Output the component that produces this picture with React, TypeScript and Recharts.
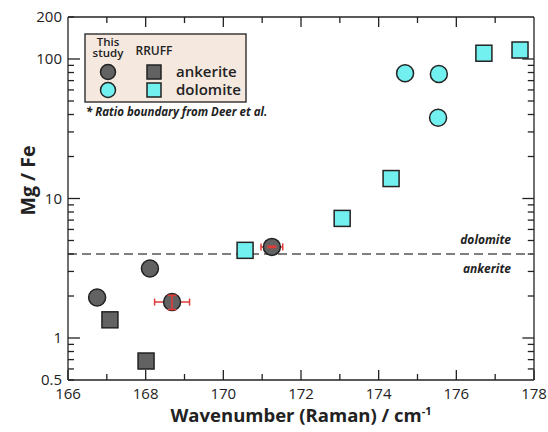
import React from 'react';
import { ScatterChart, Scatter, XAxis, YAxis, ReferenceLine, ErrorBar, Legend } from 'recharts';

// ---- data ----
const xTicks = [166, 167, 168, 169, 170, 171, 172, 173, 174, 175, 176, 177, 178];
const xLabelTicks = [166, 168, 170, 172, 174, 176, 178];
const yTicks = [0.5, 0.6, 0.7, 0.8, 0.9, 1, 2, 3, 4, 5, 6, 7, 8, 9, 10, 20, 30, 40, 50, 60, 70, 80, 90, 100, 200];
const yLabelTicks = [0.5, 1, 10, 100, 200];
const yMajorTicks = [1, 10, 100];
const xDomain = [166, 178];
const yDomain = [0.5, 200];

// This study – ankerite (circles)
const ankStudyX = [166.75, 168.11, 168.68, 171.25];
const ankStudyY = [1.95, 3.15, 1.81, 4.5];
const ankStudyErrX = [0, 0, 0.45, 0.28];
const ankStudyErrY = [0, 0, 0.21, 0.05];
// RRUFF – ankerite (squares)
const ankRruffX = [167.08, 168.01];
const ankRruffY = [1.35, 0.684];
// This study – dolomite (circles)
const dolStudyX = [174.68, 175.55, 175.53];
const dolStudyY = [79, 78, 37.9];
// RRUFF – dolomite (squares)
const dolRruffX = [170.56, 173.06, 174.32, 176.71, 177.64];
const dolRruffY = [4.25, 7.2, 13.9, 110, 116];

const boundary = 4; // Deer et al. ratio boundary

const zip = (xs: number[], ys: number[]) => xs.map((x, i) => ({ x, y: ys[i] }));
const ankStudy = ankStudyX.map((x, i) => ({ x, y: ankStudyY[i], ex: ankStudyErrX[i], ey: ankStudyErrY[i] }));
const ankStudyXErr = ankStudy.filter((d) => d.ex > 0);
const ankStudyYErr = ankStudy.filter((d) => d.ey > 0);
const ankRruff = zip(ankRruffX, ankRruffY);
const dolStudy = zip(dolStudyX, dolStudyY);
const dolRruff = zip(dolRruffX, dolRruffY);

// ---- styles ----
const FONT = '"Open Sans", "DejaVu Sans", sans-serif';
const INK = '#222';
const ANK = '#626262';
const DOL = '#72f0f0';
const RED = '#e23a3a';
// inward tick lengths for the right/top frame, in axis units
const X_TICK_MAJOR = 0.3;
const X_TICK_MINOR = 0.16;
const Y_TICK_MAJOR = 1.18;
const Y_TICK_MINOR = 1.105;

const circleShape = (fill: string) => (p: any) => (
  <circle cx={p.cx} cy={p.cy} r={8.5} fill={fill} stroke={INK} strokeWidth={1.5} />
);
const squareShape = (fill: string) => (p: any) => (
  <rect x={p.cx - 8} y={p.cy - 8} width={16} height={16} fill={fill} stroke={INK} strokeWidth={1.5} />
);
const noShape = () => <g />;

const BottomTick = (p: any) => {
  const v = p.payload.value;
  const axisY = p.y - 8;
  const major = xLabelTicks.includes(v);
  return (
    <g>
      <path d={`M${p.x},${axisY}L${p.x},${axisY - (major ? 10 : 6)}`} stroke={INK} strokeWidth={1.3} fill="none" />
      {major && (
        <text x={p.x} y={p.y} dy="0.71em" textAnchor="middle" fontFamily={FONT} fontSize={15} fontWeight={500} fill={INK}>
          {v}
        </text>
      )}
    </g>
  );
};
const LeftTick = (p: any) => {
  const v = p.payload.value;
  const axisX = p.x + 6;
  const major = yMajorTicks.includes(v);
  return (
    <g>
      <path d={`M${axisX},${p.y}L${axisX + (major ? 12 : 6)},${p.y}`} stroke={INK} strokeWidth={1.3} fill="none" />
      {yLabelTicks.includes(v) && (
        <text x={p.x} y={p.y} dy="0.36em" textAnchor="end" fontFamily={FONT} fontSize={15} fontWeight={500} fill={INK}>
          {v}
        </text>
      )}
    </g>
  );
};

const XTitle = (p: any) => {
  const vb = p.viewBox;
  return (
    <text x={vb.x + vb.width / 2} y={vb.y + 42} textAnchor="middle" fontFamily={FONT} fontSize={18.5} fontWeight={700} fill={INK}>
      Wavenumber (Raman) / cm
      <tspan dy={-7} fontSize={11}>-1</tspan>
    </text>
  );
};
const YTitle = (p: any) => {
  const vb = p.viewBox;
  const cx = 35;
  const cy = vb.y + vb.height / 2 - 18;
  return (
    <text x={cx} y={cy} transform={`rotate(-90, ${cx}, ${cy})`} textAnchor="middle" fontFamily={FONT} fontSize={19.5} fontWeight={700} fill={INK}>
      Mg / Fe
    </text>
  );
};

const BoundaryLabel = (text: string, above: boolean) => (p: any) => {
  const vb = p.viewBox;
  return (
    <text x={vb.x + vb.width - 23} y={vb.y + (above ? -10 : 19)} textAnchor="end" fontFamily={FONT} fontSize={12} fontStyle="italic" fontWeight={700} fill={INK}>
      {text}
    </text>
  );
};

const LegendBox = () => (
  <svg width={200} height={90} style={{ display: 'block', overflow: 'visible' }}>
    <rect x={1} y={1} width={161} height={68} fill="#f4e8df" stroke="#3a3a3a" strokeWidth={1.5} />
    <g fontFamily={FONT} fill={INK}>
      <text x={24} y={12.5} textAnchor="middle" fontSize={11.5} fontWeight={600}>This</text>
      <text x={24} y={24} textAnchor="middle" fontSize={11.5} fontWeight={600}>study</text>
      <text x={70} y={22} textAnchor="middle" fontSize={12} fontWeight={600}>RRUFF</text>
      <circle cx={24} cy={39} r={7.5} fill={ANK} stroke={INK} strokeWidth={1.5} />
      <rect x={63} y={32} width={14} height={14} fill={ANK} stroke={INK} strokeWidth={1.5} />
      <text x={92} y={44} fontSize={15} fontWeight={600}>ankerite</text>
      <circle cx={24} cy={57} r={7.5} fill={DOL} stroke={INK} strokeWidth={1.5} />
      <rect x={63} y={50} width={14} height={14} fill={DOL} stroke={INK} strokeWidth={1.5} />
      <text x={92} y={62} fontSize={15} fontWeight={600}>dolomite</text>
      <text x={2} y={83} fontSize={11.5} fontWeight={700} fontStyle="italic">* Ratio boundary from Deer et al.</text>
    </g>
  </svg>
);

const innerX = xTicks.filter((v) => v > xDomain[0] && v < xDomain[1]);
const innerY = yTicks.filter((v) => v > yDomain[0] && v < yDomain[1]);

export default function App() {
  const seg = { stroke: INK, strokeWidth: 1.3, ifOverflow: 'visible' as const };
  return (
    <div style={{ position: 'absolute', left: 0, top: 0, width: 548, height: 432 }}>
      <ScatterChart width={548} height={432} margin={{ top: 17, right: 14, bottom: 0, left: 0 }}>
        <XAxis
          type="number"
          dataKey="x"
          domain={xDomain}
          ticks={xTicks}
          interval={0}
          allowDataOverflow
          tickSize={0}
          tickMargin={8}
          tickLine={false}
          tick={<BottomTick />}
          height={52}
          axisLine={{ stroke: INK, strokeWidth: 1.3 }}
          label={<XTitle />}
        />
        <YAxis
          type="number"
          dataKey="y"
          scale="log"
          domain={yDomain}
          ticks={yTicks}
          interval={0}
          allowDataOverflow
          tickSize={0}
          tickMargin={6}
          tickLine={false}
          tick={<LeftTick />}
          width={68}
          axisLine={{ stroke: INK, strokeWidth: 1.3 }}
          label={<YTitle />}
        />
        {/* top and right frame with inward ticks */}
        <ReferenceLine x={xDomain[1]} {...seg} />
        <ReferenceLine y={yDomain[1]} {...seg} />
        {innerY.map((v) => (
          <ReferenceLine
            key={`r${v}`}
            segment={[{ x: xDomain[1] - (yMajorTicks.includes(v) ? X_TICK_MAJOR : X_TICK_MINOR), y: v }, { x: xDomain[1], y: v }]}
            {...seg}
          />
        ))}
        {innerX.map((v) => (
          <ReferenceLine
            key={`t${v}`}
            segment={[{ x: v, y: yDomain[1] / (xLabelTicks.includes(v) ? Y_TICK_MAJOR : Y_TICK_MINOR) }, { x: v, y: yDomain[1] }]}
            {...seg}
          />
        ))}
        <ReferenceLine y={boundary} stroke="#555" strokeWidth={1.6} strokeDasharray="9 5" label={BoundaryLabel('dolomite', true)} />
        <ReferenceLine y={boundary} stroke="none" strokeWidth={0} label={BoundaryLabel('ankerite', false)} />
        <Legend
          verticalAlign="middle"
          align="center"
          layout="horizontal"
          content={<LegendBox />}
          wrapperStyle={{ left: 84, top: 33, width: 200, height: 90 }}
        />
        <Scatter name="ankerite (RRUFF)" data={ankRruff} shape={squareShape(ANK)} isAnimationActive={false} legendType="none" />
        <Scatter name="dolomite (RRUFF)" data={dolRruff} shape={squareShape(DOL)} isAnimationActive={false} legendType="none" />
        <Scatter name="x errors" data={ankStudyXErr} shape={noShape} isAnimationActive={false} legendType="none">
          <ErrorBar dataKey="ex" direction="x" width={3.5} stroke={RED} strokeWidth={1.5} isAnimationActive={false} />
        </Scatter>
        <Scatter name="ankerite (this study)" data={ankStudy} shape={circleShape(ANK)} isAnimationActive={false} legendType="none" />
        <Scatter name="dolomite (this study)" data={dolStudy} shape={circleShape(DOL)} isAnimationActive={false} legendType="none" />
        <Scatter name="y errors" data={ankStudyYErr} shape={noShape} isAnimationActive={false} legendType="none" zIndex={800}>
          <ErrorBar dataKey="ey" direction="y" width={4.5} stroke={RED} strokeWidth={1.6} isAnimationActive={false} zIndex={900} />
        </Scatter>
      </ScatterChart>
    </div>
  );
}
